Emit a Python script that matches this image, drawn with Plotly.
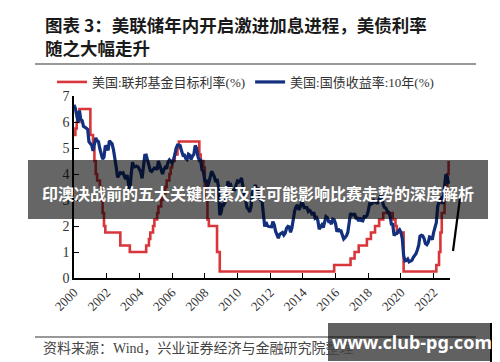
import pandas as pd
import plotly.graph_objects as go

W, H = 500, 362

# ---------------- data ----------------
months = pd.date_range("2000-01-01", "2022-12-01", freq="MS")

fed_target = (
    [5.5, 5.75, 6.0, 6.0, 6.5, 6.5, 6.5, 6.5, 6.5, 6.5, 6.5, 6.5] +                 # 2000
    [5.5, 5.5, 5.0, 4.5, 4.0, 3.75, 3.75, 3.5, 3.0, 2.5, 2.0, 1.75] +               # 2001
    [1.75] * 10 + [1.25, 1.25] +                                                   # 2002
    [1.25] * 5 + [1.0] * 7 +                                                       # 2003
    [1.0] * 5 + [1.25, 1.25, 1.5, 1.75, 1.75, 2.0, 2.25] +                         # 2004
    [2.25, 2.5, 2.75, 2.75, 3.0, 3.25, 3.25, 3.5, 3.75, 3.75, 4.0, 4.25] +         # 2005
    [4.5, 4.5, 4.75, 4.75, 5.0] + [5.25] * 7 +                                     # 2006
    [5.25] * 8 + [4.75, 4.5, 4.5, 4.25] +                                          # 2007
    [3.0, 3.0, 2.25, 2.0, 2.0, 2.0, 2.0, 2.0, 2.0, 1.0, 1.0, 0.25] +               # 2008
    [0.25] * 12 * 6 +                                                              # 2009-2014
    [0.25] * 11 + [0.5] +                                                          # 2015
    [0.5] * 11 + [0.75] +                                                          # 2016
    [0.75, 0.75, 1.0, 1.0, 1.0, 1.25, 1.25, 1.25, 1.25, 1.25, 1.25, 1.5] +         # 2017
    [1.5, 1.5, 1.75, 1.75, 1.75, 2.0, 2.0, 2.0, 2.25, 2.25, 2.25, 2.5] +           # 2018
    [2.5] * 6 + [2.25, 2.25, 2.0, 1.75, 1.75, 1.75] +                              # 2019
    [1.75, 1.75] + [0.25] * 10 +                                                   # 2020
    [0.25] * 12 +                                                                  # 2021
    [0.25, 0.25, 0.5, 0.5, 1.0, 1.75, 2.5, 2.5, 3.25, 3.25, 4.0, 4.5]              # 2022
)

ust10y = (
    [6.66, 6.52, 6.26, 5.99, 6.44, 6.10, 6.05, 5.83, 5.80, 5.74, 5.72, 5.24] +
    [5.16, 5.10, 4.89, 5.14, 5.39, 5.28, 5.24, 4.97, 4.73, 4.57, 4.65, 5.09] +
    [5.04, 4.91, 5.28, 5.21, 5.16, 4.93, 4.65, 4.26, 3.87, 3.94, 4.05, 4.03] +
    [4.05, 3.90, 3.81, 3.96, 3.57, 3.33, 3.98, 4.45, 4.27, 4.29, 4.30, 4.27] +
    [4.15, 4.08, 3.83, 4.35, 4.72, 4.73, 4.50, 4.28, 4.13, 4.10, 4.19, 4.23] +
    [4.22, 4.17, 4.50, 4.34, 4.14, 4.00, 4.18, 4.26, 4.20, 4.46, 4.54, 4.47] +
    [4.42, 4.57, 4.72, 4.99, 5.11, 5.11, 5.09, 4.88, 4.72, 4.73, 4.60, 4.56] +
    [4.76, 4.72, 4.56, 4.69, 4.75, 5.10, 5.00, 4.67, 4.52, 4.53, 4.15, 4.10] +
    [3.74, 3.74, 3.51, 3.68, 3.88, 4.10, 4.01, 3.89, 3.69, 3.81, 3.53, 2.42] +
    [2.52, 2.87, 2.82, 2.93, 3.29, 3.72, 3.56, 3.59, 3.40, 3.39, 3.40, 3.59] +
    [3.73, 3.69, 3.73, 3.85, 3.42, 3.20, 3.01, 2.70, 2.65, 2.54, 2.76, 3.29] +
    [3.39, 3.58, 3.41, 3.46, 3.17, 3.00, 3.00, 2.30, 1.98, 2.15, 2.01, 1.98] +
    [1.97, 1.97, 2.17, 2.05, 1.80, 1.62, 1.53, 1.68, 1.72, 1.75, 1.65, 1.72] +
    [1.91, 1.98, 1.96, 1.76, 1.93, 2.30, 2.58, 2.74, 2.81, 2.62, 2.72, 2.90] +
    [2.86, 2.71, 2.72, 2.71, 2.56, 2.60, 2.54, 2.42, 2.53, 2.30, 2.33, 2.21] +
    [1.88, 1.98, 2.04, 1.94, 2.20, 2.36, 2.32, 2.17, 2.17, 2.07, 2.26, 2.24] +
    [2.09, 1.78, 1.89, 1.81, 1.81, 1.64, 1.50, 1.56, 1.63, 1.76, 2.14, 2.49] +
    [2.43, 2.42, 2.48, 2.30, 2.30, 2.19, 2.32, 2.21, 2.20, 2.36, 2.35, 2.40] +
    [2.58, 2.86, 2.84, 2.87, 2.98, 2.91, 2.89, 2.89, 3.00, 3.15, 3.12, 2.83] +
    [2.71, 2.68, 2.57, 2.53, 2.40, 2.07, 2.06, 1.63, 1.70, 1.71, 1.81, 1.86] +
    [1.76, 1.50, 0.87, 0.66, 0.67, 0.73, 0.62, 0.65, 0.68, 0.79, 0.87, 0.93] +
    [1.08, 1.26, 1.61, 1.64, 1.62, 1.52, 1.32, 1.28, 1.37, 1.58, 1.56, 1.47] +
    [1.76, 1.93, 2.13, 2.75, 2.90, 3.14, 2.90, 2.90, 3.52, 3.98, 3.89, 3.62]
)

series_names = ["美国:联邦基金目标利率(%)", "美国:国债收益率:10年(%)"]
title_lines = ["图表 3：美联储年内开启激进加息进程，美债利率", "随之大幅走升"]
source_text = "资料来源：Wind，兴业证券经济与金融研究院整理"
banner_text = "印澳决战前的五大关键因素及其可能影响比赛走势的深度解析"
watermark_text = "www.club-pg.com"

# ---------------- helpers ----------------
def px(x):
    return x / W

def py(y):
    return 1 - y / H

SERIF = "Liberation Serif, Noto Sans CJK SC, serif"
CJK = "Noto Sans CJK SC, sans-serif"

fig = go.Figure()
fig.add_trace(go.Scatter(x=months, y=fed_target, name=series_names[0], mode="lines",
                         line=dict(color="#d8363a", width=2.6, shape="hv")))
fig.add_trace(go.Scatter(x=months, y=ust10y, name=series_names[1], mode="lines",
                         line=dict(color="#13307f", width=3.2)))

fig.update_layout(
    template="none",
    width=W, height=H,
    margin=dict(l=0, r=0, t=0, b=0, pad=0, autoexpand=False),
    paper_bgcolor="white", plot_bgcolor="white",
    showlegend=True,
    legend=dict(orientation="h", x=px(44), y=py(74), xanchor="left", yanchor="middle",
                font=dict(family=SERIF, size=13, color="#333"),
                bgcolor="rgba(0,0,0,0)", itemwidth=30, tracegroupgap=0),
    xaxis=dict(domain=[px(66), px(442)], range=["2000-01-01", "2023-01-01"],
               type="date", dtick="M24", tick0="2000-01-01", tickformat="%Y",
               tickangle=-45, showline=True, linecolor="black", linewidth=1.6,
               ticks="inside", ticklen=5, tickwidth=1.4, tickcolor="black",
               showgrid=False, zeroline=False, automargin=False,
               tickfont=dict(family=SERIF, size=13, color="#333")),
    yaxis=dict(domain=[py(270), py(88)], range=[0, 7], dtick=1,
               showline=True, linecolor="black", linewidth=1.6,
               ticks="inside", ticklen=5, tickwidth=1.4, tickcolor="black",
               showgrid=False, zeroline=False, automargin=False,
               tickfont=dict(family=SERIF, size=14, color="#333")),
)

shapes = [
    dict(type="line", xref="paper", yref="paper", x0=px(27), x1=px(468), y0=py(56), y1=py(56),
         line=dict(color="#333", width=1.2)),
    dict(type="line", xref="paper", yref="paper", x0=px(27), x1=px(468), y0=py(329), y1=py(329),
         line=dict(color="#333", width=1.2)),
    dict(type="line", xref="paper", yref="paper", x0=px(452), x1=px(445), y0=py(190), y1=py(243),
         line=dict(color="black", width=2.2), layer="above"),
    dict(type="rect", xref="paper", yref="paper", x0=px(20), x1=px(480), y0=py(211), y1=py(152),
         fillcolor="rgba(0,0,0,0.6)", line=dict(width=0), layer="above"),
    dict(type="rect", xref="paper", yref="paper", x0=px(320), x1=px(482), y0=py(353), y1=py(315),
         fillcolor="rgba(0,0,0,0.62)", line=dict(width=0), layer="above"),
    dict(type="rect", xref="paper", yref="paper", x0=px(482), x1=px(492), y0=py(355), y1=py(315),
         fillcolor="black", line=dict(width=0), layer="above"),
]
fig.update_layout(shapes=shapes)

annotations = [
    dict(text="<br>".join(title_lines), x=px(35), y=py(28), xanchor="left", yanchor="middle",
         align="left",
         font=dict(family=CJK, size=17.5, color="#1a1a1a", weight="bold")),
    dict(text=source_text, x=px(33), y=py(340), xanchor="left", yanchor="middle",
         font=dict(family=SERIF, size=14, color="#444")),
    dict(text=banner_text, x=px(250), y=py(185), xanchor="center", yanchor="middle",
         font=dict(family=CJK, size=16, color="white", weight="bold")),
    dict(text=watermark_text, x=px(404), y=py(334), xanchor="center", yanchor="middle",
         font=dict(family="Noto Sans, sans-serif", size=18, color="white", weight="bold")),
]
for a in annotations:
    a.update(xref="paper", yref="paper", showarrow=False)
fig.update_layout(annotations=annotations)

fig.write_html("out.html")
